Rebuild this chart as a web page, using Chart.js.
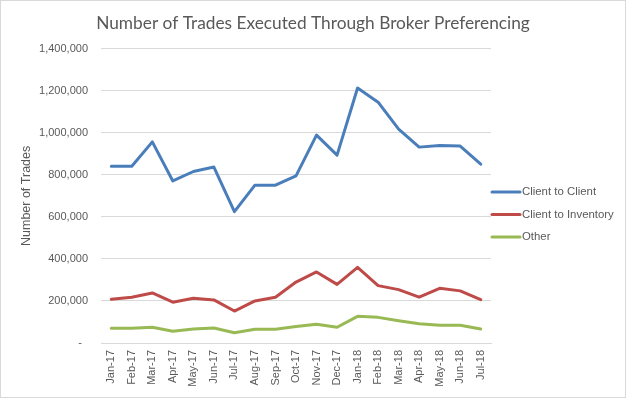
<!DOCTYPE html>
<html>
<head>
<meta charset="utf-8">
<script src="https://cdn.jsdelivr.net/npm/chart.js@4.4.1/dist/chart.umd.min.js"></script>
<style>
html,body{margin:0;padding:0;background:#fff;}
#wrap{width:626px;height:398px;position:relative;}
</style>
</head>
<body>
<div id="wrap"><canvas id="c" width="626" height="398"></canvas></div>
<script>
const categories = ["Jan-17","Feb-17","Mar-17","Apr-17","May-17","Jun-17","Jul-17","Aug-17","Sep-17","Oct-17","Nov-17","Dec-17","Jan-18","Feb-18","Mar-18","Apr-18","May-18","Jun-18","Jul-18"];
const clientToClient = [841000,841000,957000,771000,816000,837000,625000,751000,751000,795000,989000,894000,1213000,1146000,1018000,932000,940000,937000,851000];
const clientToInventory = [208000,218000,238000,194000,213000,205000,152000,200000,218000,290000,338000,279000,360000,273000,254000,218000,260000,248000,206000];
const other = [70000,70000,75000,56000,67000,71000,49000,65000,65000,78000,89000,75000,127000,122000,106000,92000,84000,84000,67000];
const seriesNames = ["Client to Client","Client to Inventory","Other"];
const seriesColors = ["#4A7EBB","#BE4B48","#98B954"];
const yTicks = [0,200000,400000,600000,800000,1000000,1200000,1400000];

const FONT = "'Liberation Sans', Arial, sans-serif";
const GRAY = "#595959";

const borderPlugin = {
  id: 'borderPlugin',
  afterDraw(chart) {
    const ctx = chart.ctx;
    ctx.save();
    ctx.strokeStyle = '#d9d9d9';
    ctx.lineWidth = 1;
    ctx.strokeRect(0.5, 0.5, chart.width - 1, chart.height - 1);
    ctx.restore();
  }
};

const legendPlugin = {
  id: 'customLegend',
  afterDraw(chart) {
    const ctx = chart.ctx;
    const x0 = chart.chartArea.right;
    const yStart = 192, step = 22.5;
    ctx.save();
    chart.data.datasets.forEach((ds, i) => {
      const y = yStart + i * step;
      ctx.strokeStyle = ds.borderColor;
      ctx.lineWidth = 3;
      ctx.lineCap = 'round';
      ctx.beginPath();
      ctx.moveTo(x0 + 1, y);
      ctx.lineTo(x0 + 29, y);
      ctx.stroke();
      ctx.fillStyle = GRAY;
      ctx.font = "11.4px " + FONT;
      ctx.textBaseline = 'middle';
      ctx.textAlign = 'left';
      ctx.fillText(ds.label, x0 + 31, y);
    });
    ctx.restore();
  }
};

const datasets = [clientToClient, clientToInventory, other].map((d, i) => ({
  label: seriesNames[i],
  data: d,
  borderColor: seriesColors[i],
  backgroundColor: seriesColors[i],
  borderWidth: 3,
  pointRadius: 0,
  tension: 0,
  fill: false,
  borderCapStyle: 'round',
  borderJoinStyle: 'round'
}));

new Chart(document.getElementById('c'), {
  type: 'line',
  data: { labels: categories, datasets },
  plugins: [borderPlugin, legendPlugin],
  options: {
    responsive: false,
    animation: false,
    devicePixelRatio: 1,
    layout: { padding: 0 },
    plugins: {
      legend: { display: false },
      tooltip: { enabled: false },
      title: {
        display: true,
        text: 'Number of Trades Executed Through Broker Preferencing',
        color: GRAY,
        font: { family: "Lato, 'Open Sans', sans-serif", size: 17.3, weight: 'normal' },
        padding: { top: 13, bottom: 15 }
      }
    },
    scales: {
      x: {
        offset: true,
        grid: { display: false, drawTicks: false },
        border: { display: true, color: '#d9d9d9', width: 1 },
        ticks: {
          color: GRAY,
          font: { family: FONT, size: 11 },
          minRotation: 90,
          maxRotation: 90,
          autoSkip: false,
          padding: 7
        },
        afterFit(scale) { scale.height = 55; }
      },
      y: {
        min: 0,
        max: 1400000,
        afterBuildTicks(scale) { scale.ticks = yTicks.map(v => ({ value: v })); },
        grid: { color: '#d9d9d9', drawTicks: false },
        border: { display: false },
        ticks: {
          color: GRAY,
          font: { family: FONT, size: 11 },
          padding: 13,
          callback: v => v === 0 ? '-  ' : v.toLocaleString('en-US')
        },
        title: {
          display: true,
          text: 'Number of Trades',
          color: GRAY,
          font: { family: FONT, size: 12.5 },
          padding: { top: 19, bottom: 0 }
        },
        afterFit(scale) { scale.width = 101; }
      },
      legendSpace: {
        type: 'linear',
        position: 'right',
        display: true,
        grid: { display: false, drawTicks: false },
        border: { display: false },
        ticks: { display: false },
        afterFit(scale) { scale.width = 135; }
      }
    }
  }
});
</script>
</body>
</html>
